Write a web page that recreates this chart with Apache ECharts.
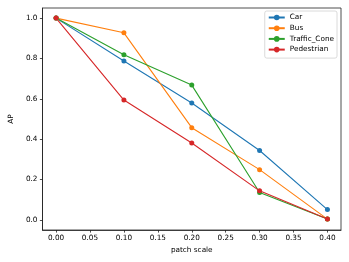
<!DOCTYPE html>
<html><head><meta charset="utf-8">
<script src="https://cdn.jsdelivr.net/npm/echarts@6/dist/echarts.min.js"></script>
<style>html,body{margin:0;padding:0;background:#fff}#c{width:349px;height:262px}</style>
</head><body><div id="c"></div>
<script>
const xValues = [0.0, 0.1, 0.2, 0.3, 0.4];
const seriesNames = ['Car', 'Bus', 'Traffic_Cone', 'Pedestrian'];
const car = [1.0, 0.787, 0.579, 0.344, 0.051];
const bus = [1.0, 0.927, 0.457, 0.249, 0.004];
const trafficCone = [1.0, 0.818, 0.668, 0.136, 0.004];
const pedestrian = [1.0, 0.594, 0.381, 0.144, 0.004];
const xTicks = [0.0, 0.05, 0.1, 0.15, 0.2, 0.25, 0.3, 0.35, 0.4];
const yTicks = [0.0, 0.2, 0.4, 0.6, 0.8, 1.0];
const colors = ['#1f77b4', '#ff7f0e', '#2ca02c', '#d62728'];

const allData = [car, bus, trafficCone, pedestrian];
const chart = echarts.init(document.getElementById('c'), null, {renderer: 'canvas'});
const font = 'DejaVu Sans';
const fs = 7.3;
chart.setOption({
  animation: false,
  textStyle: {fontFamily: font},
  grid: {left: 36, right: 8, top: 8, bottom: 32, show: true, borderColor: '#222', borderWidth: 0.8, backgroundColor: 'transparent'},
  legend: {
    data: seriesNames, orient: 'vertical', right: 12, top: 11,
    backgroundColor: '#fff', borderColor: '#d0d0d0', borderWidth: 0.8, borderRadius: 2,
    padding: [3, 3, 5, 3], itemGap: 3.7, itemWidth: 16, itemHeight: 7,
    textStyle: {fontSize: fs, color: '#000', fontFamily: font}
  },
  xAxis: {
    type: 'value', min: -0.02, max: 0.42,
    name: 'patch scale', nameLocation: 'middle', nameGap: 14,
    nameTextStyle: {fontSize: fs, color: '#000', fontFamily: font},
    splitLine: {show: false},
    axisLine: {show: true, onZero: false, lineStyle: {color: '#222', width: 0.8}},
    axisTick: {show: true, length: 2.6, customValues: xTicks, lineStyle: {color: '#222', width: 0.8}},
    axisLabel: {customValues: xTicks, fontSize: fs, color: '#000', margin: 5, formatter: v => v.toFixed(2)}
  },
  yAxis: {
    type: 'value', min: -0.05, max: 1.05,
    name: 'AP', nameLocation: 'middle', nameGap: 23,
    nameTextStyle: {fontSize: fs, color: '#000', fontFamily: font},
    splitLine: {show: false},
    axisLine: {show: true, onZero: false, lineStyle: {color: '#222', width: 0.8}},
    axisTick: {show: true, length: 2.6, customValues: yTicks, lineStyle: {color: '#222', width: 0.8}},
    axisLabel: {customValues: yTicks, fontSize: fs, color: '#000', margin: 5, formatter: v => v.toFixed(1)}
  },
  series: seriesNames.map((n, i) => ({
    name: n, type: 'line', data: xValues.map((x, j) => [x, allData[i][j]]),
    symbol: 'circle', symbolSize: 5, showSymbol: true,
    itemStyle: {color: colors[i]}, lineStyle: {color: colors[i], width: 1.1}
  }))
});
</script></body></html>
